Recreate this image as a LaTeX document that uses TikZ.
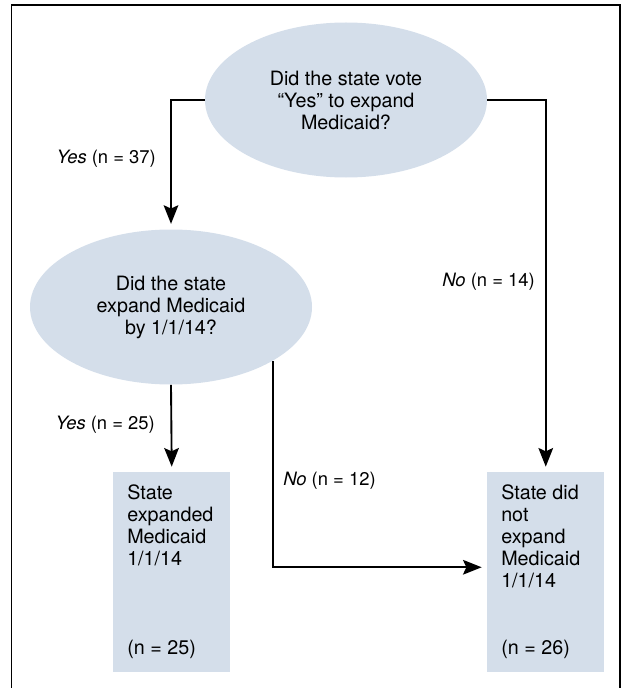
\documentclass[tikz,border=0pt]{standalone}
\usepackage{fontspec}
\setmainfont{TeX Gyre Heros}
\usetikzlibrary{arrows.meta,shapes.geometric}

\definecolor{qblue}{RGB}{212,222,234}
\newcommand{\outcometext}[2]{\parbox[t][150pt][t]{66.75pt}{\raggedright\vspace*{9.4pt}#1\par\vfill #2\par\vspace*{10.4pt}}}

\begin{document}
\begin{tikzpicture}[
  x=0.75pt, y=-0.75pt,
  question/.style={ellipse, fill=qblue, minimum width=211.5pt, minimum height=116.25pt, inner sep=0pt, align=center, font=\fontsize{14.8}{16.5}\selectfont},
  outcome/.style={rectangle, fill=qblue, anchor=north west, minimum width=87.75pt, minimum height=150pt, inner xsep=10.5pt, inner ysep=0pt, font=\fontsize{14.8}{16.5}\selectfont},
  lbl/.style={inner sep=0pt, font=\fontsize{13.8}{16}\selectfont},
  arr/.style={-{Stealth[length=14pt, width=11pt, inset=2.5pt]}, line width=1.4pt, shorten >=4pt}
]
  \useasboundingbox (0,0) rectangle (625,688);
  \draw[line width=1.2pt] (11.5,705) -- (11.5,5) -- (620,5) -- (620,705);

  \node[question] (vote) at (346,100) {Did the state vote\\``Yes'' to expand\\Medicaid?};
  \node[question] (expand) at (171,307) {Did the state\\expand Medicaid\\by 1/1/14?};

  \node[outcome] (yesbox) at (113,472) {\outcometext{State\\expanded\\Medicaid\\1/1/14}{(n = 25)}};
  \node[outcome] (nobox) at (487,472) {\outcometext{State did\\not\\expand\\Medicaid\\1/1/14}{(n = 26)}};

  \node[lbl, anchor=base east] (yes37) at (156,163) {\textit{Yes} (n = 37)};
  \node[lbl, anchor=base east] (no14) at (535,286) {\textit{No} (n = 14)};
  \node[lbl, anchor=base east] (yes25) at (155,429) {\textit{Yes} (n = 25)};
  \node[lbl, anchor=base west] (no12) at (283,485) {\textit{No} (n = 12)};

  \draw[arr] (vote.west) -| (expand.north);
  \draw[arr] (vote.east) -| (nobox.north);
  \draw[arr] (expand.south) -- (yesbox.north);
  \draw[arr] (expand.-28) |- ([yshift=3.75pt]nobox.west);
\end{tikzpicture}
\end{document}
